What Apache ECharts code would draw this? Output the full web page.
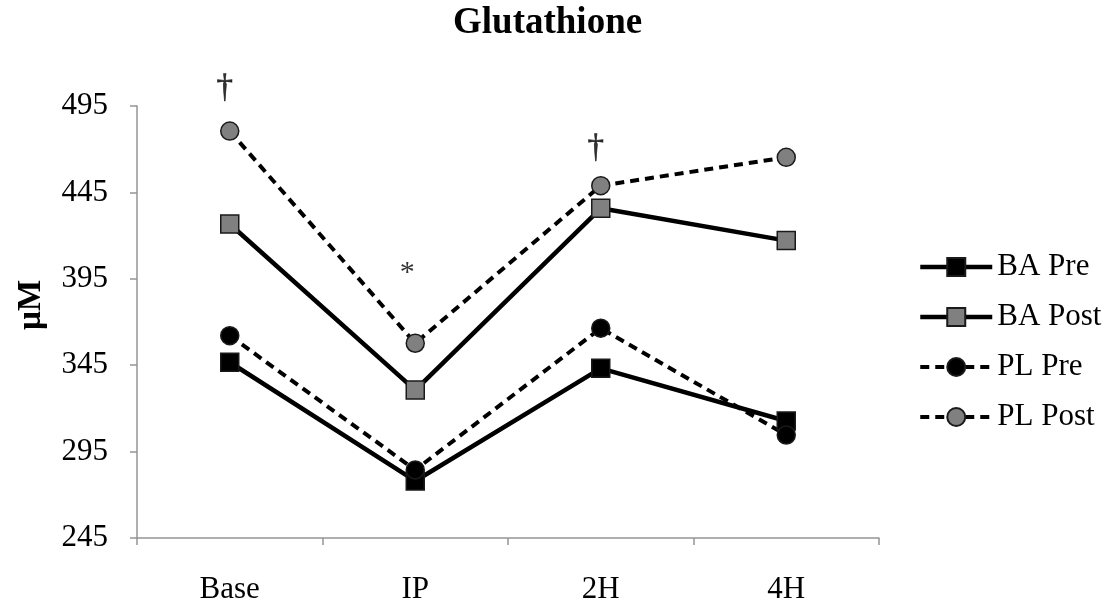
<!DOCTYPE html>
<html>
<head>
<meta charset="utf-8">
<title>Glutathione</title>
<script src="https://cdn.jsdelivr.net/npm/echarts@6/dist/echarts.min.js"></script>
<style>
  html, body { margin: 0; padding: 0; background: #fff; }
  #chart { width: 1113px; height: 606px; }
</style>
</head>
<body>
<div id="chart"></div>
<script>
// Time points and glutathione concentrations (µM)
const categories = ['Base', 'IP', '2H', '4H'];
const baPre  = [346.7, 278.0, 343.2, 312.7];
const baPost = [426.7, 330.6, 435.8, 417.1];
const plPre  = [362.1, 284.4, 366.4, 304.6];
const plPost = [480.5, 357.7, 448.9, 465.3];
const yTicks = [245, 295, 345, 395, 445, 495];
const seriesNames = ['BA Pre', 'BA Post', 'PL Pre', 'PL Post'];

// Significance markers: [category, value, symbol]
const notes = [
  ['Base', 505.5, '\u2020'],
  ['IP', 398.5, '*'],
  ['2H', 470.3, '\u2020']
];

const FONT = '"Liberation Serif", "Times New Roman", serif';
const AXIS_GREY = '#959595';
const MARK_GREY = '#808080';
const SOLID_W = 4.5;
const DASH_W = 4;
const DASH = [9, 6];

function lineSeries(name, data, symbol, fill, dashed) {
  return {
    name: name,
    type: 'line',
    data: data,
    symbol: symbol,
    symbolSize: 18,
    z: 3,
    itemStyle: { color: fill, borderColor: '#1a1a1a', borderWidth: 1.5 },
    lineStyle: {
      color: '#000',
      width: dashed ? DASH_W : SOLID_W,
      type: dashed ? DASH : 'solid'
    },
    emphasis: { disabled: true },
    animation: false
  };
}

const chart = echarts.init(document.getElementById('chart'), null, { renderer: 'canvas' });

chart.setOption({
  backgroundColor: '#fff',
  animation: false,
  title: {
    text: 'Glutathione',
    left: 453,
    top: 5,
    padding: 0,
    textStyle: { fontFamily: FONT, fontWeight: 'bold', fontSize: 37, color: '#000' }
  },
  grid: { left: 137, right: 234, top: 106, bottom: 68, containLabel: false },
  legend: {
    orient: 'vertical',
    left: 918,
    top: 251,
    padding: 0,
    itemWidth: 72,
    itemHeight: 22.5,
    itemGap: 18,
    data: seriesNames.map((n, i) => ({
      name: n,
      lineStyle: {
        color: '#000',
        width: i < 2 ? SOLID_W : DASH_W,
        type: i < 2 ? 'solid' : DASH
      }
    })),
    textStyle: { fontFamily: FONT, fontSize: 31, color: '#000', lineHeight: 32 },
    selectedMode: false
  },
  xAxis: {
    type: 'category',
    data: categories,
    boundaryGap: true,
    axisLine: { show: true, lineStyle: { color: AXIS_GREY, width: 1.5 } },
    axisTick: { show: true, length: 7, lineStyle: { color: AXIS_GREY, width: 1.5 } },
    axisLabel: { fontFamily: FONT, fontSize: 31, color: '#000', margin: 36 },
    splitLine: { show: false }
  },
  yAxis: {
    type: 'value',
    min: 245,
    max: 495,
    axisLine: { show: true, lineStyle: { color: AXIS_GREY, width: 1.5 } },
    axisTick: { show: true, length: 7, customValues: yTicks, lineStyle: { color: AXIS_GREY, width: 1.5 } },
    axisLabel: { fontFamily: FONT, fontSize: 31, color: '#000', margin: 29, customValues: yTicks },
    splitLine: { show: false }
  },
  graphic: [{
    type: 'text',
    x: 31,
    y: 305,
    rotation: Math.PI / 2,
    style: {
      text: '\u00b5M',
      fontFamily: FONT,
      fontWeight: 'bold',
      fontSize: 33,
      fill: '#000',
      align: 'center',
      verticalAlign: 'middle'
    }
  }],
  series: [
    lineSeries(seriesNames[0], baPre, 'rect', '#000', false),
    lineSeries(seriesNames[1], baPost, 'rect', MARK_GREY, false),
    lineSeries(seriesNames[2], plPre, 'circle', '#000', true),
    lineSeries(seriesNames[3], plPost, 'circle', MARK_GREY, true),
    {
      name: 'notes',
      type: 'scatter',
      clip: false,
      silent: true,
      symbolSize: 1,
      itemStyle: { color: 'rgba(0,0,0,0)' },
      data: notes.map(n => {
        const dagger = n[2] === '\u2020';
        return {
          value: [n[0], n[1]],
          mark: n[2],
          label: dagger
            ? { fontSize: 33, textBorderColor: '#000', textBorderWidth: 0.6 }
            : { fontSize: 30, offset: [-8, 0] }
        };
      }),
      label: {
        show: true,
        position: 'inside',
        offset: [-5, 0],
        formatter: p => p.data.mark,
        fontFamily: FONT,
        color: '#000'
      },
      animation: false
    }
  ]
});
</script>
</body>
</html>
